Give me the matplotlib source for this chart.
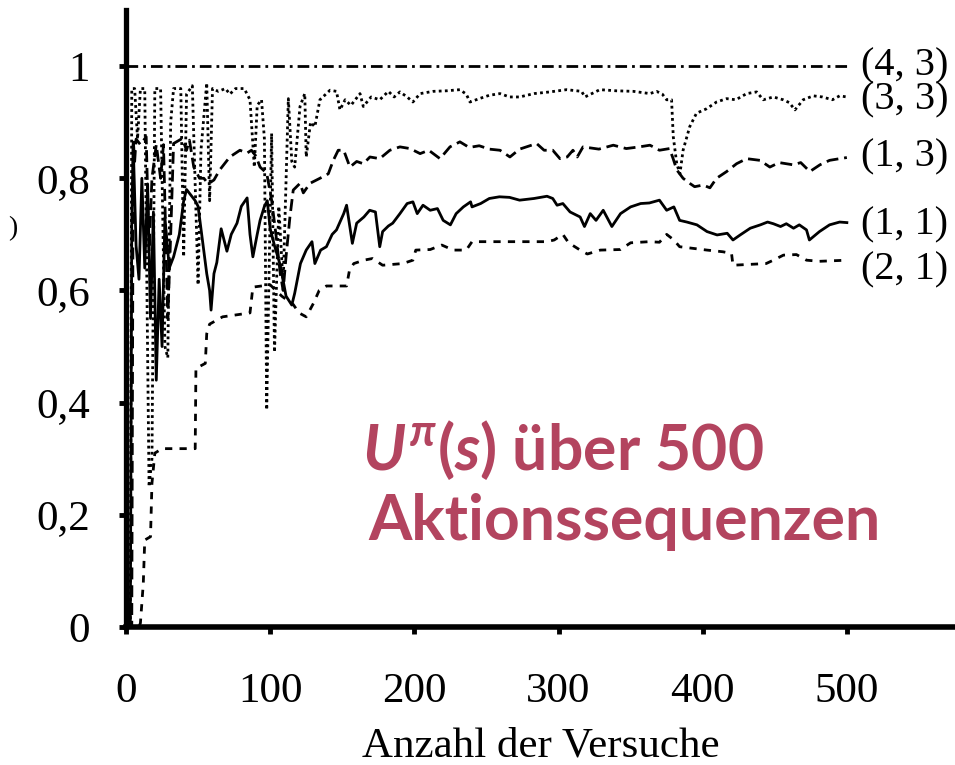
import matplotlib
matplotlib.use("Agg")
from matplotlib import pyplot as plt

# (1, 1) - solid
x_11 = [0, 3, 4, 5, 7, 9, 11, 13, 15, 17, 19, 21, 23, 25, 27, 30, 33, 37, 40, 42, 45, 48, 50, 53, 56, 58, 59, 61,
        63, 66, 68, 70, 73, 77, 80, 84, 86, 88, 91, 93, 96, 98, 100, 103, 107, 111, 115, 117, 121, 125, 129, 131,
        135, 139, 143, 146, 151, 153, 157, 160, 165, 169, 173, 176, 178, 182, 185, 190, 195, 199, 202, 206, 211,
        216, 220, 225, 229, 234, 239, 240, 246, 252, 259, 266, 273, 283, 292, 296, 299, 303, 308, 315, 318, 322,
        326, 331, 337, 343, 350, 357, 363, 370, 375, 380, 384, 389, 396, 403, 410, 417, 421, 426, 433, 440, 445,
        449, 454, 458, 463, 467, 472, 474, 481, 488, 495, 500]
u_11 = [0, 0, 0.72, 0.86, 0.68, 0.62, 0.80, 0.64, 0.79, 0.55, 0.74, 0.44, 0.62, 0.50, 0.73, 0.64, 0.66, 0.70,
        0.76, 0.78, 0.77, 0.76, 0.75, 0.69, 0.63, 0.60, 0.565, 0.63, 0.65, 0.71, 0.69, 0.67, 0.70, 0.72, 0.75,
        0.765, 0.70, 0.66, 0.70, 0.725, 0.75, 0.76, 0.71, 0.68, 0.645, 0.59, 0.574, 0.595, 0.648, 0.672, 0.687,
        0.648, 0.672, 0.678, 0.70, 0.708, 0.737, 0.752, 0.684, 0.72, 0.731, 0.743, 0.74, 0.678, 0.705, 0.715,
        0.72, 0.737, 0.755, 0.758, 0.737, 0.752, 0.743, 0.746, 0.725, 0.717, 0.737, 0.749, 0.758, 0.749, 0.755,
        0.764, 0.767, 0.766, 0.761, 0.764, 0.768, 0.764, 0.752, 0.755, 0.74, 0.731, 0.714, 0.737, 0.725, 0.743,
        0.714, 0.737, 0.749, 0.755, 0.756, 0.761, 0.743, 0.749, 0.725, 0.722, 0.717, 0.705, 0.699, 0.702, 0.69,
        0.699, 0.711, 0.717, 0.722, 0.719, 0.714, 0.719, 0.711, 0.717, 0.708, 0.69, 0.705, 0.717, 0.722, 0.721]

# (2, 1) - short dashes
x_21 = [0, 9, 10, 12, 13, 17, 18, 20, 25, 48, 48.5, 55, 56, 58, 67, 86, 88, 100, 108, 116, 120, 125, 130, 134,
        139, 153, 155, 158, 165, 171, 178, 192, 199, 201, 211, 219, 227, 236, 240, 292, 297, 303, 307, 315, 320,
        329, 343, 350, 363, 370, 375, 380, 384, 403, 414, 420, 421, 444, 449, 456, 465, 472, 481, 500]
u_21 = [0, 0, 0.007, 0.078, 0.155, 0.161, 0.256, 0.31, 0.318, 0.318, 0.461, 0.47, 0.523, 0.54, 0.553, 0.56,
        0.606, 0.61, 0.59, 0.575, 0.56, 0.553, 0.577, 0.60, 0.608, 0.608, 0.636, 0.648, 0.654, 0.657, 0.645,
        0.648, 0.654, 0.672, 0.673, 0.681, 0.672, 0.672, 0.687, 0.687, 0.69, 0.70, 0.685, 0.672, 0.665, 0.672,
        0.673, 0.685, 0.687, 0.686, 0.70, 0.69, 0.678, 0.672, 0.669, 0.666, 0.645, 0.648, 0.654, 0.663, 0.664,
        0.654, 0.652, 0.654]

# (1, 3) - long dashes
x_13 = [0, 4, 5, 6, 7, 10, 14, 16, 18, 21, 24, 26, 29, 31, 33, 39, 42, 44, 47, 51, 54, 57, 61, 65, 72, 79, 84,
        87, 90, 93, 97.6, 101, 104, 107, 109, 111, 113.7, 116, 120.7, 123, 127.6, 134.5, 140.3, 143.8, 147.2,
        151, 155.3, 160, 164.6, 169.2, 176, 183, 190, 197, 204, 210, 217.8, 224.7, 231.6, 238, 245, 252, 259.4,
        266.3, 273, 284.8, 290, 296, 301, 306, 310, 313, 317, 328, 338, 347, 356, 363.4, 365.7, 370, 377, 379.5,
        382, 386.4, 391, 394.4, 400.3, 405, 409.6, 416.6, 423.5, 430.5, 439.7, 446.6, 453, 462.8, 468, 474.3,
        481.3, 488, 495, 500]
u_13 = [0, 0, 0.87, 0.83, 0.87, 0.86, 0.874, 0.67, 0.80, 0.86, 0.80, 0.86, 0.55, 0.70, 0.862, 0.871, 0.85,
        0.868, 0.82, 0.80, 0.80, 0.79, 0.797, 0.815, 0.838, 0.85, 0.845, 0.85, 0.84, 0.82, 0.809, 0.761, 0.70,
        0.63, 0.60, 0.66, 0.731, 0.779, 0.791, 0.774, 0.791, 0.80, 0.808, 0.832, 0.85, 0.85, 0.82, 0.83, 0.826,
        0.838, 0.835, 0.85, 0.856, 0.853, 0.844, 0.85, 0.835, 0.856, 0.865, 0.855, 0.858, 0.852, 0.85, 0.838,
        0.852, 0.862, 0.85, 0.85, 0.835, 0.838, 0.85, 0.838, 0.856, 0.852, 0.859, 0.853, 0.856, 0.859, 0.856,
        0.85, 0.853, 0.835, 0.815, 0.80, 0.791, 0.785, 0.788, 0.783, 0.80, 0.812, 0.826, 0.835, 0.832, 0.82,
        0.828, 0.824, 0.828, 0.812, 0.824, 0.832, 0.835, 0.837]

# (3, 3) - dotted
x_33 = [0, 3, 4, 6, 8, 10, 13, 16, 18, 20, 24, 27, 29, 31, 33, 38, 40, 42, 46, 50, 52, 56, 58, 60, 64, 69, 72,
        76, 82, 86, 89, 91, 94, 96, 97.6, 99, 101, 103, 106, 109, 112.6, 115, 117, 120.7, 124, 125, 128, 131,
        134.5, 141.5, 146, 148.4, 152, 156, 162.3, 164.6, 170, 176, 182, 186, 190, 195, 199, 204, 213, 222.4,
        231.6, 236, 238.6, 245, 252, 259.4, 266, 273, 283, 294, 305.6, 316, 318.3, 328.7, 340, 352, 363.4, 368,
        372, 375, 378.4, 379.6, 382, 384.2, 386.4, 391, 395.7, 402.7, 409.6, 416.6, 423, 430.5, 437.4, 442, 449,
        455.8, 460, 464, 469.7, 476.7, 483, 490, 495, 500]
u_33 = [0, 0, 0.96, 0.96, 0.87, 0.96, 0.96, 0.25, 0.30, 0.96, 0.96, 0.50, 0.48, 0.90, 0.96, 0.96, 0.66, 0.95,
        0.965, 0.61, 0.85, 0.97, 0.76, 0.96, 0.955, 0.96, 0.95, 0.96, 0.96, 0.94, 0.82, 0.93, 0.94, 0.87, 0.387,
        0.60, 0.88, 0.49, 0.75, 0.61, 0.942, 0.83, 0.82, 0.928, 0.951, 0.838, 0.90, 0.892, 0.94, 0.957, 0.955,
        0.922, 0.94, 0.93, 0.951, 0.928, 0.945, 0.94, 0.955, 0.945, 0.954, 0.945, 0.936, 0.951, 0.955, 0.956,
        0.958, 0.95, 0.936, 0.942, 0.948, 0.951, 0.945, 0.945, 0.951, 0.954, 0.958, 0.955, 0.945, 0.958, 0.956,
        0.955, 0.951, 0.955, 0.95, 0.94, 0.94, 0.874, 0.826, 0.808, 0.85, 0.892, 0.916, 0.924, 0.936, 0.942,
        0.94, 0.951, 0.954, 0.94, 0.945, 0.94, 0.935, 0.922, 0.94, 0.947, 0.945, 0.94, 0.947, 0.945]

# (4, 3) - dash-dot
x_43 = [0, 500]
u_43 = [1, 1]

labels = ["(4, 3)", "(3, 3)", "(1, 3)", "(1, 1)", "(2, 1)"]
label_y = [1.0, 0.94, 0.838, 0.717, 0.636]

xticks = [0, 100, 200, 300, 400, 500]
yticks = [0, 0.2, 0.4, 0.6, 0.8, 1]
ytick_labels = ["0", "0,2", "0,4", "0,6", "0,8", "1"]

serif = "Liberation Serif"
plt.rcParams["mathtext.fontset"] = "custom"
plt.rcParams["mathtext.rm"] = "Lato:bold"
plt.rcParams["mathtext.it"] = "Lato:italic:bold"
plt.rcParams["mathtext.bf"] = "Lato:bold"

fig = plt.figure(figsize=(9.55, 7.65), dpi=100)
ax = fig.add_axes([126 / 955, 138 / 765, 1 - 126 / 955, 0.8065])

ax.plot(x_43, u_43, color="black", lw=2.0, linestyle=(0, (4.2, 1.8, 1, 1.8)))
ax.plot(x_33, u_33, color="black", lw=2.0, linestyle=(0, (1, 1.2)))
ax.plot(x_13, u_13, color="black", lw=2.0, linestyle=(0, (4.3, 2.1)))
ax.plot(x_11, u_11, color="black", lw=2.0)
ax.plot(x_21, u_21, color="black", lw=2.0, linestyle=(0, (2.6, 2.6)))

for lab, yy in zip(labels, label_y):
    ax.annotate(lab, xy=(500, yy), xytext=(10, 0), textcoords="offset points",
                va="center", ha="left", fontsize=29, family=serif, annotation_clip=False)

ax.set_xlim(0, 575)
ax.set_ylim(0, 1.1)
ax.set_xticks(xticks)
ax.set_xticklabels([str(t) for t in xticks], family=serif, fontsize=31)
ax.set_yticks(yticks)
ax.set_yticklabels(ytick_labels, family=serif, fontsize=31)
ax.tick_params(axis="both", direction="out", length=5, width=3.5)
ax.tick_params(axis="x", pad=28)
ax.tick_params(axis="y", pad=21)

for s in ["top", "right"]:
    ax.spines[s].set_visible(False)
ax.spines["left"].set_linewidth(3.8)
ax.spines["bottom"].set_linewidth(4)

ax.set_xlabel("Anzahl der Versuche", family=serif, fontsize=31, labelpad=11)

# remnant of the y label at the left edge
fig.text(17 / 955, 1 - 229 / 765, ")", family=serif, fontsize=20, ha="right", va="center")

red = "#b3445f"
fig.text(362 / 955, 1 - 470 / 765, r"$U^{\pi}(s)$ über 500", color=red, fontsize=45,
         family="Lato", fontweight="bold", va="baseline")
fig.text(368 / 955, 1 - 540 / 765, "Aktionssequenzen", color=red, fontsize=45,
         family="Lato", fontweight="bold", va="baseline")

plt.savefig("out.png", dpi=100)
